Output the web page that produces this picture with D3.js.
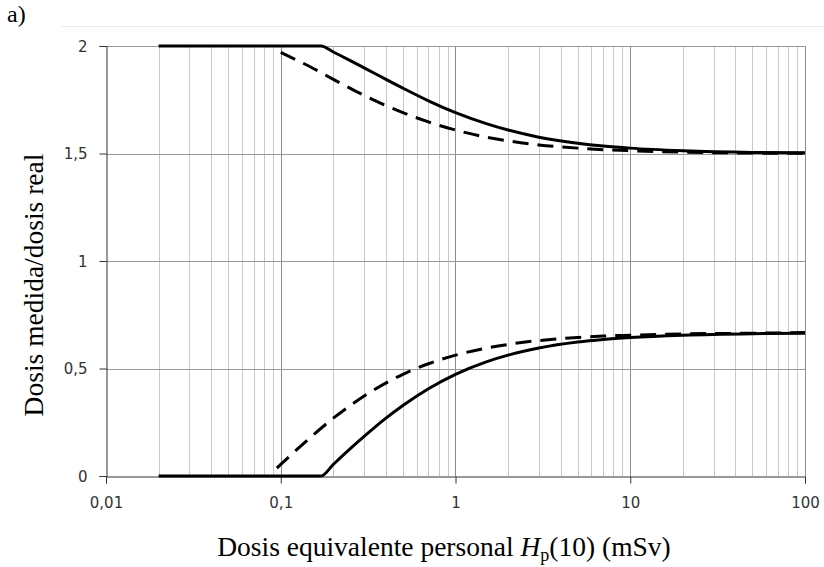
<!DOCTYPE html>
<html>
<head>
<meta charset="utf-8">
<script src="https://cdn.jsdelivr.net/npm/d3@7"></script>
<style>
  html, body { margin: 0; padding: 0; background: #fff; }
  svg { display: block; }
  .tick-label { font-family: "DejaVu Sans", Verdana, sans-serif; font-size: 15px; fill: #333; }
  .title { font-family: "Liberation Serif", "Times New Roman", serif; font-size: 27.5px; fill: #000; }
</style>
</head>
<body>
<svg id="chart" width="824" height="567"></svg>
<script>
// Curvas de respuesta (trompeta): dosis medida / dosis real frente a Hp(10)

const xTicks = [0.01, 0.1, 1, 10, 100];
const yTicks = [0, 0.5, 1, 1.5, 2];

// límite superior, línea continua
const upperSolidX = [0.02, 0.05, 0.1, 0.17, 0.2, 0.25, 0.3, 0.4, 0.5, 0.7, 1, 1.5, 2, 3, 5, 7, 10, 20, 50, 100];
const upperSolidY = [2, 2, 2, 2, 1.972, 1.932, 1.898, 1.845, 1.804, 1.745, 1.69, 1.639, 1.609, 1.576, 1.548, 1.535, 1.525, 1.513, 1.505, 1.503];

// límite inferior, línea continua
const lowerSolidX = [0.02, 0.05, 0.1, 0.17, 0.2, 0.25, 0.3, 0.4, 0.5, 0.7, 1, 1.5, 2, 3, 5, 7, 10, 20, 50, 100];
const lowerSolidY = [0, 0, 0, 0, 0.054, 0.127, 0.184, 0.269, 0.328, 0.406, 0.473, 0.531, 0.562, 0.595, 0.623, 0.635, 0.644, 0.655, 0.662, 0.664];

// límite superior, línea discontinua
const upperDashX = [0.1, 0.15, 0.2, 0.3, 0.5, 0.7, 1, 1.5, 2, 3, 5, 7, 10, 20, 50, 100];
const upperDashY = [1.97, 1.9, 1.845, 1.77, 1.69, 1.647, 1.609, 1.576, 1.559, 1.54, 1.525, 1.518, 1.513, 1.506, 1.502, 1.501];

// límite inferior, línea discontinua
const lowerDashX = [0.095, 0.1, 0.15, 0.2, 0.3, 0.5, 0.7, 1, 1.5, 2, 3, 5, 7, 10, 20, 50, 100];
const lowerDashY = [0.037, 0.054, 0.184, 0.269, 0.372, 0.473, 0.522, 0.562, 0.595, 0.612, 0.63, 0.644, 0.651, 0.655, 0.661, 0.664, 0.667];

const plot = { left: 106, right: 805, top: 46, bottom: 476 };

const svg = d3.select("#chart");

const x = d3.scaleLog().domain([0.01, 100]).range([plot.left, plot.right]);
const y = d3.scaleLinear().domain([0, 2]).range([plot.bottom, plot.top]);

const es = d3.formatLocale({ decimal: ",", thousands: ".", grouping: [3], currency: ["", " €"] });
const fmt = es.format("~g");

// línea gris clara superior
svg.append("line")
  .attr("x1", 61).attr("x2", 824).attr("y1", 26.5).attr("y2", 26.5)
  .attr("stroke", "#ebebeb").attr("stroke-width", 1);

// rejilla vertical (menor y mayor)
const gridX = x.ticks();
svg.append("g").selectAll("line")
  .data(gridX.filter((d) => !xTicks.includes(d)))
  .join("line")
  .attr("x1", (d) => Math.round(x(d)) + 0.5).attr("x2", (d) => Math.round(x(d)) + 0.5)
  .attr("y1", plot.top).attr("y2", plot.bottom)
  .attr("stroke", "#c8c8c8");

svg.append("g").selectAll("line")
  .data(xTicks.slice(1))
  .join("line")
  .attr("x1", (d) => Math.round(x(d)) + 0.5).attr("x2", (d) => Math.round(x(d)) + 0.5)
  .attr("y1", plot.top).attr("y2", plot.bottom)
  .attr("stroke", "#8c8c8c");

// rejilla horizontal
svg.append("g").selectAll("line")
  .data(yTicks.slice(1))
  .join("line")
  .attr("x1", plot.left).attr("x2", plot.right)
  .attr("y1", (d) => Math.round(y(d)) + 0.5).attr("y2", (d) => Math.round(y(d)) + 0.5)
  .attr("stroke", "#9a9a9a");

// ejes
const xAxis = svg.append("g")
  .attr("transform", `translate(0,${plot.bottom + 0.5})`)
  .call(d3.axisBottom(x).tickValues(xTicks).tickFormat(fmt).tickSize(7).tickPadding(14));
const yAxis = svg.append("g")
  .attr("transform", `translate(${plot.left + 0.5},0)`)
  .call(d3.axisLeft(y).tickValues(yTicks).tickFormat(fmt).tickSize(7).tickPadding(12));

[xAxis, yAxis].forEach((g) => {
  g.select(".domain").attr("stroke", "#333");
  g.selectAll(".tick line").attr("stroke", "#333");
  g.selectAll(".tick text").attr("class", "tick-label").attr("fill", null);
});
yAxis.selectAll(".tick text").attr("dy", "0.35em");

// curvas
const line = d3.line()
  .x((d) => x(d[0]))
  .y((d) => y(d[1]))
  .curve(d3.curveMonotoneX);

const series = [
  { xs: upperSolidX, ys: upperSolidY, dash: null },
  { xs: lowerSolidX, ys: lowerSolidY, dash: null },
  { xs: upperDashX, ys: upperDashY, dash: "16,9" },
  { xs: lowerDashX, ys: lowerDashY, dash: "16,9" }
];

svg.append("g").selectAll("path")
  .data(series)
  .join("path")
  .attr("d", (s) => line(s.xs.map((v, i) => [v, s.ys[i]])))
  .attr("fill", "none")
  .attr("stroke", "#000")
  .attr("stroke-width", 3)
  .attr("stroke-dasharray", (s) => s.dash);

// títulos
svg.append("text")
  .attr("class", "title")
  .attr("x", 7).attr("y", 22)
  .style("font-size", "24px")
  .text("a)");

const xt = svg.append("text")
  .attr("class", "title")
  .attr("x", 444).attr("y", 556)
  .attr("text-anchor", "middle");
xt.append("tspan").text("Dosis equivalente personal ");
xt.append("tspan").attr("font-style", "italic").text("H");
xt.append("tspan").attr("dy", 5).style("font-size", "18px").text("p");
xt.append("tspan").attr("dy", -5).text("(10) (mSv)");

svg.append("text")
  .attr("class", "title")
  .attr("text-anchor", "middle")
  .attr("transform", "translate(43,285) rotate(-90)")
  .text("Dosis medida/dosis real");
</script>
</body>
</html>
